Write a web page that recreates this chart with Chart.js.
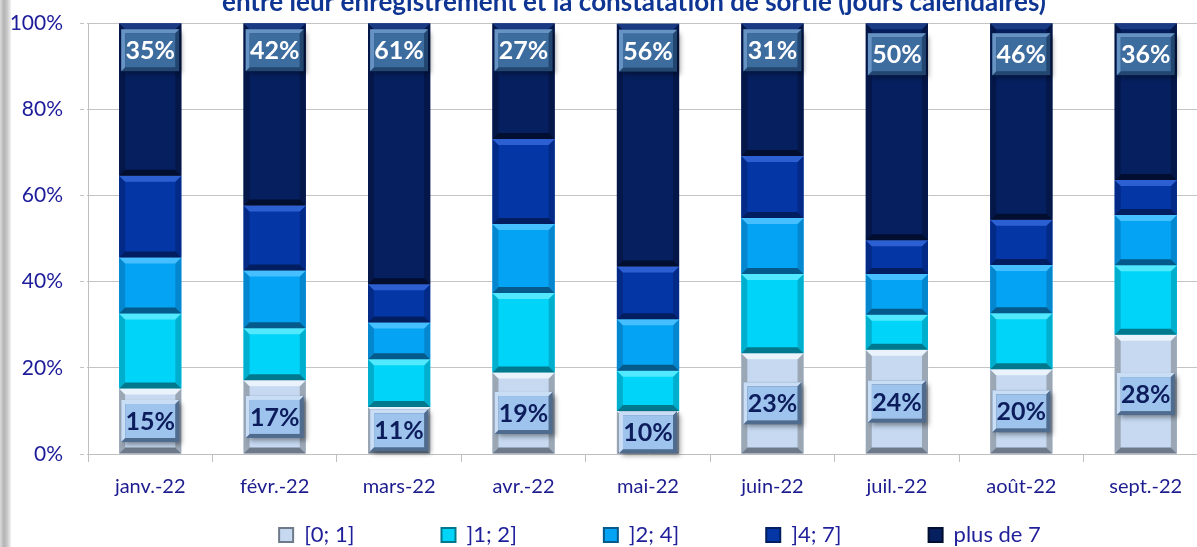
<!DOCTYPE html>
<html>
<head>
<meta charset="utf-8">
<script src="https://cdn.jsdelivr.net/npm/chart.js@4/dist/chart.umd.min.js"></script>
<style>
  html, body { margin: 0; padding: 0; background: #fff; overflow: hidden; width: 1197px; height: 547px; }
  #wrap { position: relative; width: 1197px; height: 547px; overflow: hidden; }
  #edge { position: absolute; left: 0; top: 0; width: 11px; height: 547px;
          background: linear-gradient(to right, #dcdcdc 0%, #b4b4b4 35%, #c8c8c8 65%, #f2f2f2 100%); z-index: 2; }
  #chart { position: absolute; left: 0; top: -13px; }
</style>
</head>
<body>
<div id="wrap">
  <div id="edge"></div>
  <canvas id="chart" width="1208" height="569"></canvas>
</div>
<script>
// =============================
// DATA
// =============================
const months = ["janv.-22", "févr.-22", "mars-22", "avr.-22", "mai-22", "juin-22", "juil.-22", "août-22", "sept.-22"];
const seriesNames = ["[0; 1]", "]1; 2]", "]2; 4]", "]4; 7]", "plus de 7"];

const d0_1   = [15.2, 17.1, 10.9, 18.9, 10.0, 23.4, 24.2, 19.7, 27.7];
const d1_2   = [17.4, 12.1, 11.1, 18.5,  9.3, 18.4,  8.1, 13.0, 16.1];
const d2_4   = [13.0, 13.4,  8.5, 16.0, 12.0, 13.0,  9.5, 11.2, 11.7];
const d4_7   = [19.0, 15.1,  8.9, 19.7, 12.2, 14.4,  7.8, 10.5,  8.1];
const dPlus7 = [35.4, 42.3, 60.6, 26.9, 56.4, 30.8, 50.4, 45.6, 36.4];

const yTicks = [0, 20, 40, 60, 80, 100];

const titleText = "entre leur enregistrement et la constatation de sortie (jours calendaires)";

// fill / top bevel / bottom bevel / side bevel
const palette = [
  { fill: "#C6D9F1", top: "#EAF2FB", bottom: "#6E7A89", side: "#9BA7B5" },
  { fill: "#00D5F9", top: "#52E9FF", bottom: "#00788D", side: "#00AECE" },
  { fill: "#05A3F3", top: "#45BFFF", bottom: "#035A8B", side: "#0487CF" },
  { fill: "#0436A5", top: "#2C60D2", bottom: "#021E60", side: "#032A86" },
  { fill: "#061F5E", top: "#1A3A84", bottom: "#020E30", side: "#041748" }
];

const allData = [d0_1, d1_2, d2_4, d4_7, dPlus7];

// =============================
// NUDGE title / legend like the excel layout
// =============================
const nudgePlugin = {
  id: "nudge",
  afterLayout(chart) {
    if (chart.legend) { chart.legend.left += 12; chart.legend.right += 12; }
    if (chart.titleBlock) { chart.titleBlock.left -= 14; chart.titleBlock.right -= 14; }
  }
};

// =============================
// BEVEL PLUGIN (draws over each bar element)
// =============================
const bevelPlugin = {
  id: "bevel",
  afterDatasetsDraw(chart) {
    const ctx = chart.ctx;
    const b = 6;
    chart.data.datasets.forEach((ds, i) => {
      const meta = chart.getDatasetMeta(i);
      const col = palette[i];
      meta.data.forEach(bar => {
        const p = bar.getProps(["x", "y", "base", "width"], true);
        const l = p.x - p.width / 2, r = p.x + p.width / 2;
        const t = Math.min(p.y, p.base), bt = Math.max(p.y, p.base);
        if (bt - t < 2 * b) return;
        const poly = (pts, c) => {
          ctx.beginPath();
          ctx.moveTo(pts[0][0], pts[0][1]);
          for (let k = 1; k < pts.length; k++) ctx.lineTo(pts[k][0], pts[k][1]);
          ctx.closePath();
          ctx.fillStyle = c;
          ctx.fill();
        };
        ctx.save();
        poly([[l, t], [l + b, t + b], [l + b, bt - b], [l, bt]], col.side);
        poly([[r, t], [r - b, t + b], [r - b, bt - b], [r, bt]], col.side);
        poly([[l, t], [r, t], [r - b, t + b], [l + b, t + b]], col.top);
        poly([[l, bt], [r, bt], [r - b, bt - b], [l + b, bt - b]], col.bottom);
        ctx.restore();
      });
    });
  }
};

// =============================
// LABEL BOXES (first and last series)
// =============================
const labelPlugin = {
  id: "boxLabels",
  afterDatasetsDraw(chart) {
    const ctx = chart.ctx;
    const bw = 58, bh = 42, bv = 4;
    const drawBox = (cx, cy, fill, light, dark, textColor, text) => {
      const l = cx - bw / 2, t = cy - bh / 2;
      ctx.save();
      ctx.shadowColor = "rgba(0,0,0,0.4)";
      ctx.shadowBlur = 5;
      ctx.shadowOffsetX = 3;
      ctx.shadowOffsetY = 3;
      ctx.fillStyle = dark;
      ctx.fillRect(l, t, bw, bh);
      ctx.restore();
      ctx.save();
      ctx.fillStyle = light;
      ctx.beginPath();
      ctx.moveTo(l, t); ctx.lineTo(l + bw, t); ctx.lineTo(l + bw - bv, t + bv);
      ctx.lineTo(l + bv, t + bv); ctx.lineTo(l + bv, t + bh - bv); ctx.lineTo(l, t + bh);
      ctx.closePath(); ctx.fill();
      ctx.fillStyle = fill;
      ctx.fillRect(l + bv, t + bv, bw - 2 * bv, bh - 2 * bv);
      ctx.fillStyle = textColor;
      ctx.font = "bold 25px Lato";
      ctx.textAlign = "center";
      ctx.textBaseline = "middle";
      ctx.fillText(text, cx, cy + 1);
      ctx.restore();
    };
    // bottom series: centred in the segment
    chart.getDatasetMeta(0).data.forEach((bar, j) => {
      const p = bar.getProps(["x", "y", "base"], true);
      drawBox(p.x, (p.y + p.base) / 2, "#9EC4EE", "#C9DDF5", "#4F6B8E", "#0D1D5C",
        Math.round(d0_1[j]) + "%");
    });
    // top series: inside end
    const last = chart.data.datasets.length - 1;
    chart.getDatasetMeta(last).data.forEach((bar, j) => {
      const p = bar.getProps(["x", "y", "base"], true);
      const top = Math.min(p.y, p.base);
      const off = j >= 6 ? 10 : 6;
      drawBox(p.x, top + off + bh / 2, "#3D6C9F", "#6792C4", "#22466F", "#FFFFFF",
        Math.round(dPlus7[j]) + "%");
    });
  }
};

// =============================
// CHART
// =============================
const ctx = document.getElementById("chart").getContext("2d");

new Chart(ctx, {
  type: "bar",
  data: {
    labels: months,
    datasets: allData.map((vals, i) => ({
      label: seriesNames[i],
      data: vals,
      backgroundColor: palette[i].fill,
      borderColor: palette[i].bottom,
      borderWidth: 0,
      barPercentage: 0.5,
      categoryPercentage: 1.0
    }))
  },
  options: {
    responsive: false,
    animation: false,
    devicePixelRatio: 1,
    layout: { padding: 0 },
    plugins: {
      tooltip: { enabled: false },
      title: {
        display: true,
        fullSize: false,
        text: titleText,
        color: "#0F3593",
        font: { family: "Lato", size: 26, weight: "bold" },
        padding: { top: 0, bottom: 5 }
      },
      legend: {
        position: "bottom",
        fullSize: false,
        labels: {
          color: "#1F1F9A",
          font: { family: "Lato", size: 22 },
          boxWidth: 14,
          boxHeight: 14,
          padding: 10,
          generateLabels(chart) {
            return chart.data.datasets.map((ds, i) => ({
              text: ds.label + (i < chart.data.datasets.length - 1 ? "\u2003\u2003\u2003\u2003\u2002" : ""),
              fillStyle: palette[i].fill,
              strokeStyle: palette[i].bottom,
              lineWidth: 2,
              fontColor: "#1F1F9A",
              hidden: false,
              datasetIndex: i
            }));
          }
        }
      }
    },
    scales: {
      x: {
        stacked: true,
        afterFit(scale) { scale.height = 60; },
        grid: {
          display: true,
          drawOnChartArea: false,
          drawTicks: true,
          tickLength: 8,
          color: "#BFBFBF"
        },
        border: { display: true, color: "#BFBFBF" },
        ticks: {
          color: "#1C1C8E",
          font: { family: "Lato", size: 20 },
          padding: 13,
          maxRotation: 0
        }
      },
      y: {
        stacked: true,
        min: 0,
        max: 100,
        afterFit(scale) { scale.width = 88; },
        afterBuildTicks(scale) { scale.ticks = yTicks.map(v => ({ value: v })); },
        grid: {
          color: ctx => ctx.tick && ctx.tick.value === 0 ? "rgba(0,0,0,0)" : "#C4C4C4",
          borderDash: [4, 3],
          tickBorderDash: [4, 3],
          tickLength: 8,
          tickColor: "#C4C4C4"
        },
        border: { display: true, color: "#BFBFBF", dash: [] },
        ticks: {
          color: "#1C1C9A",
          font: { family: "Lato", size: 21 },
          padding: 17,
          callback: v => v + "%"
        }
      }
    }
  },
  plugins: [nudgePlugin, bevelPlugin, labelPlugin]
});
</script>
</body>
</html>
